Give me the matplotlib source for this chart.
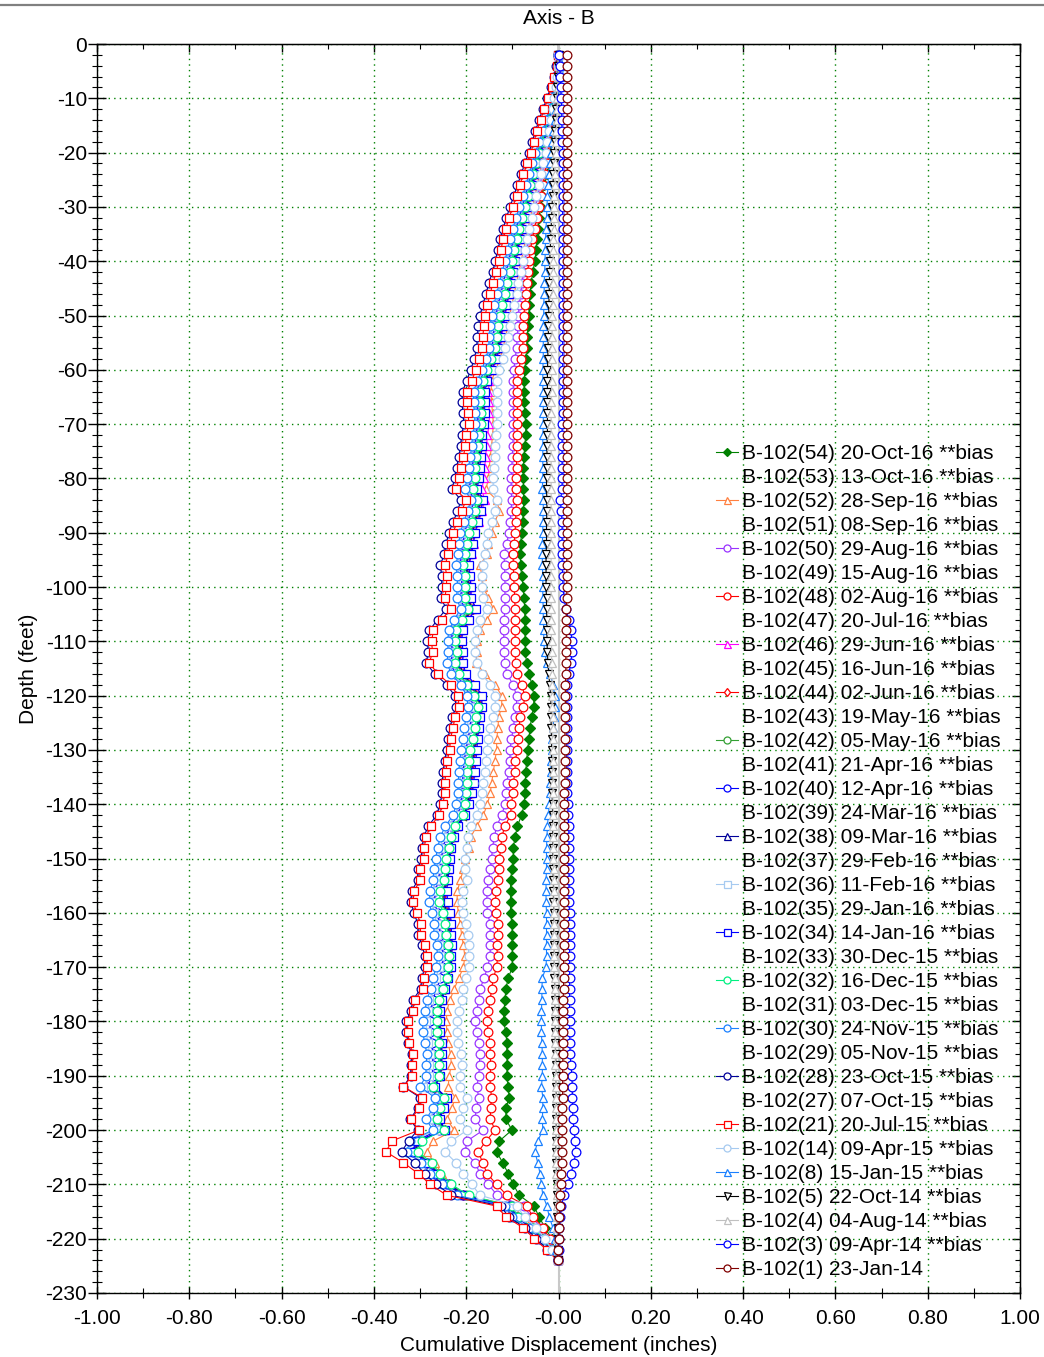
import matplotlib
matplotlib.use("Agg")  # headless
import matplotlib.pyplot as plt
from matplotlib.lines import Line2D
from matplotlib.ticker import MultipleLocator, FixedLocator
import numpy as np

plt.rcParams["font.family"] = ["Liberation Sans", "DejaVu Sans"]
plt.rcParams["font.size"] = 15

# ── data: cumulative displacement, thousandths of an inch, every 2 ft ──────
DEPTH = list(range(-2, -226, -2))

S54 = [0, -1, -3, -5, -7, -9, -12, -14, -16, -18,
       -20, -24, -31, -36, -39, -42, -45, -47, -49, -51,
       -56, -59, -62, -63, -64, -66, -68, -69, -71, -73,
       -74, -75, -75, -73, -71, -71, -73, -75, -76, -76,
       -76, -75, -76, -78, -80, -82, -83, -82, -80, -76,
       -75, -73, -73, -73, -72, -72, -69, -63, -58, -53,
       -54, -58, -62, -64, -67, -69, -71, -72, -73, -74,
       -80, -89, -94, -98, -98, -101, -104, -104, -104, -104,
       -101, -100, -100, -100, -100, -109, -114, -116, -118, -119,
       -114, -112, -112, -111, -112, -109, -107, -114, -114, -101,
       -128, -134, -121, -109, -98, -85, -53, -42, -29, -15,
       -8, -2]
S52 = [-1, -2, -4, -7, -10, -13, -17, -21, -26, -31,
       -36, -41, -46, -51, -56, -61, -66, -71, -76, -81,
       -86, -91, -96, -101, -106, -110, -115, -120, -127, -136,
       -145, -146, -145, -143, -141, -143, -145, -148, -150, -152,
       -157, -134, -128, -138, -145, -152, -155, -170, -166, -163,
       -152, -141, -155, -170, -177, -177, -178, -160, -138, -123,
       -123, -130, -131, -134, -134, -138, -141, -145, -148, -154,
       -163, -177, -190, -195, -203, -206, -213, -219, -220, -217,
       -213, -210, -206, -203, -206, -216, -226, -235, -242, -243,
       -242, -239, -234, -232, -237, -239, -224, -231, -242, -226,
       -271, -286, -268, -253, -232, -200, -95, -80, -50, -30,
       -13, -2]
S50 = [-1, -2, -4, -6, -9, -12, -15, -19, -23, -27,
       -31, -36, -40, -45, -50, -55, -60, -65, -69, -73,
       -76, -79, -82, -85, -87, -88, -89, -91, -94, -97,
       -98, -98, -98, -98, -98, -98, -99, -100, -101, -102,
       -103, -101, -103, -105, -108, -112, -118, -117, -116, -116,
       -116, -116, -118, -119, -118, -118, -116, -112, -98, -91,
       -91, -95, -98, -102, -105, -105, -108, -112, -113, -116,
       -123, -134, -139, -143, -145, -148, -152, -155, -155, -154,
       -148, -148, -148, -148, -154, -161, -170, -173, -177, -181,
       -177, -173, -171, -171, -173, -177, -173, -178, -181, -163,
       -198, -203, -181, -170, -152, -133, -75, -59, -37, -23,
       -10, -2]
S48 = [-1, -2, -3, -5, -7, -10, -13, -16, -19, -23,
       -26, -30, -34, -38, -42, -47, -52, -57, -61, -64,
       -67, -69, -71, -73, -75, -76, -76, -78, -82, -86,
       -89, -89, -89, -89, -89, -90, -90, -91, -91, -92,
       -92, -91, -92, -93, -94, -96, -98, -98, -97, -96,
       -95, -94, -94, -94, -94, -94, -93, -91, -80, -73,
       -76, -84, -85, -87, -89, -94, -94, -98, -99, -102,
       -104, -116, -123, -125, -128, -130, -132, -135, -137, -135,
       -132, -132, -134, -132, -134, -141, -145, -148, -152, -155,
       -152, -148, -148, -147, -148, -148, -145, -147, -148, -137,
       -157, -174, -164, -155, -134, -112, -69, -55, -33, -19,
       -8, -2]
S46 = [-1, -2, -4, -7, -10, -14, -19, -24, -30, -36,
       -42, -48, -54, -60, -66, -71, -77, -82, -87, -92,
       -97, -102, -106, -111, -115, -119, -123, -126, -134, -142,
       -150, -152, -151, -150, -150, -154, -156, -158, -160, -162,
       -166, -160, -166, -173, -180, -184, -188, -194, -191, -189,
       -189, -180, -196, -208, -210, -207, -209, -201, -182, -168,
       -167, -171, -174, -177, -180, -182, -184, -186, -189, -196,
       -202, -218, -227, -232, -236, -238, -241, -244, -243, -237,
       -233, -233, -231, -232, -233, -239, -245, -254, -257, -258,
       -257, -254, -254, -254, -256, -268, -243, -250, -258, -246,
       -306, -314, -285, -263, -238, -208, -107, -89, -57, -36,
       -16, -2]
S44 = [-1, -2, -5, -8, -12, -16, -21, -27, -33, -39,
       -45, -51, -57, -63, -69, -74, -80, -86, -91, -96,
       -101, -106, -111, -116, -120, -124, -127, -130, -139, -148,
       -157, -163, -163, -163, -163, -167, -169, -171, -174, -176,
       -179, -167, -173, -179, -186, -190, -194, -199, -196, -194,
       -195, -186, -200, -212, -214, -211, -214, -206, -186, -172,
       -168, -172, -175, -178, -181, -184, -186, -188, -190, -197,
       -203, -219, -228, -233, -237, -239, -242, -246, -245, -239,
       -235, -235, -232, -233, -234, -240, -246, -254, -257, -258,
       -257, -254, -254, -255, -257, -268, -244, -251, -258, -247,
       -305, -313, -284, -263, -238, -207, -107, -89, -57, -36,
       -16, -2]
S42 = [-1, -2, -5, -8, -12, -16, -22, -28, -34, -41,
       -47, -53, -59, -65, -71, -77, -83, -88, -93, -98,
       -103, -108, -113, -118, -123, -127, -130, -133, -142, -151,
       -160, -166, -166, -166, -166, -170, -171, -174, -177, -179,
       -182, -172, -177, -183, -190, -194, -197, -201, -198, -197,
       -198, -190, -204, -216, -218, -215, -218, -210, -191, -177,
       -170, -174, -177, -181, -186, -189, -191, -193, -195, -199,
       -205, -221, -230, -235, -239, -241, -244, -250, -251, -244,
       -240, -239, -236, -235, -236, -241, -248, -257, -260, -261,
       -260, -257, -256, -257, -258, -270, -246, -253, -261, -248,
       -300, -308, -279, -260, -235, -200, -104, -89, -57, -35,
       -16, -2]
S40 = [-1, -3, -6, -9, -14, -19, -25, -32, -39, -46,
       -53, -60, -66, -72, -79, -85, -92, -98, -103, -108,
       -114, -120, -125, -131, -136, -139, -142, -144, -152, -160,
       -170, -177, -177, -175, -175, -179, -181, -184, -187, -190,
       -194, -183, -189, -196, -204, -207, -210, -214, -210, -210,
       -212, -204, -218, -230, -232, -230, -233, -224, -205, -191,
       -185, -189, -192, -196, -201, -204, -207, -208, -209, -212,
       -218, -234, -244, -250, -254, -257, -260, -267, -269, -262,
       -258, -257, -252, -250, -252, -257, -263, -273, -276, -279,
       -278, -275, -272, -273, -273, -285, -258, -264, -275, -260,
       -309, -316, -286, -267, -242, -208, -108, -94, -60, -37,
       -17, -2]
S38 = [-1, -2, -5, -8, -11, -16, -21, -27, -33, -40,
       -46, -52, -58, -64, -70, -75, -81, -87, -92, -97,
       -102, -107, -112, -117, -121, -125, -128, -131, -140, -149,
       -158, -164, -164, -164, -164, -168, -170, -172, -175, -177,
       -180, -169, -175, -181, -187, -191, -195, -200, -197, -195,
       -196, -188, -202, -214, -216, -213, -215, -207, -188, -174,
       -169, -173, -176, -179, -183, -186, -188, -190, -192, -198,
       -204, -220, -229, -234, -238, -240, -243, -248, -248, -242,
       -238, -237, -234, -234, -235, -240, -247, -255, -258, -259,
       -258, -255, -255, -256, -257, -269, -245, -252, -259, -247,
       -303, -311, -282, -262, -237, -204, -106, -89, -57, -36,
       -16, -2]
S36 = [-1, -3, -6, -10, -14, -20, -26, -33, -40, -48,
       -55, -62, -69, -75, -82, -89, -96, -102, -107, -112,
       -118, -124, -130, -136, -141, -144, -146, -148, -155, -163,
       -173, -180, -180, -178, -178, -182, -184, -188, -191, -194,
       -199, -187, -193, -201, -209, -212, -214, -218, -215, -215,
       -217, -208, -222, -234, -236, -235, -238, -228, -209, -195,
       -191, -195, -198, -202, -206, -209, -212, -213, -214, -217,
       -223, -240, -250, -256, -260, -264, -266, -273, -275, -269,
       -264, -263, -258, -256, -259, -265, -270, -280, -283, -287,
       -286, -283, -279, -280, -280, -293, -263, -268, -281, -266,
       -318, -326, -292, -272, -247, -214, -112, -97, -62, -39,
       -18, -2]
S34 = [-1, -2, -4, -7, -11, -15, -20, -25, -31, -38,
       -44, -50, -56, -62, -68, -73, -79, -84, -89, -94,
       -99, -104, -108, -113, -117, -121, -125, -128, -136, -145,
       -154, -160, -160, -160, -161, -165, -166, -168, -171, -173,
       -176, -163, -169, -175, -181, -185, -189, -195, -192, -190,
       -190, -178, -195, -208, -210, -206, -208, -200, -180, -166,
       -166, -170, -173, -175, -177, -179, -181, -184, -187, -195,
       -202, -217, -227, -232, -235, -237, -240, -242, -240, -235,
       -232, -232, -230, -232, -232, -239, -245, -253, -256, -257,
       -256, -253, -253, -253, -256, -268, -242, -249, -257, -246,
       -307, -315, -286, -264, -239, -210, -108, -90, -58, -37,
       -17, -2]
S32 = [-1, -2, -5, -8, -12, -17, -23, -29, -36, -43,
       -49, -55, -61, -67, -73, -79, -85, -91, -96, -101,
       -106, -112, -117, -122, -127, -131, -134, -137, -146, -155,
       -164, -170, -170, -169, -169, -173, -175, -178, -180, -182,
       -186, -177, -182, -188, -195, -199, -202, -206, -202, -202,
       -203, -197, -210, -222, -224, -221, -224, -216, -198, -184,
       -174, -178, -181, -185, -192, -195, -198, -199, -200, -203,
       -208, -224, -233, -238, -243, -245, -248, -256, -258, -250,
       -246, -244, -240, -238, -239, -242, -250, -260, -263, -264,
       -263, -260, -259, -260, -260, -271, -249, -257, -264, -249,
       -296, -304, -275, -257, -232, -195, -101, -87, -55, -33,
       -15, -2]
S30 = [-1, -3, -6, -10, -15, -20, -27, -34, -42, -50,
       -57, -64, -71, -78, -85, -92, -99, -105, -111, -116,
       -122, -128, -134, -140, -145, -148, -150, -151, -158, -166,
       -176, -184, -184, -182, -181, -186, -188, -191, -195, -198,
       -203, -190, -197, -205, -213, -216, -218, -222, -219, -219,
       -221, -212, -226, -238, -240, -239, -242, -232, -212, -199,
       -196, -201, -204, -208, -211, -214, -216, -217, -218, -222,
       -228, -245, -256, -262, -266, -270, -272, -278, -280, -275,
       -270, -270, -264, -262, -265, -272, -276, -286, -289, -294,
       -294, -290, -285, -287, -287, -300, -268, -272, -287, -272,
       -322, -329, -297, -278, -253, -221, -116, -101, -65, -40,
       -19, -2]
S28 = [-2, -5, -10, -17, -25, -34, -42, -50, -57, -64,
       -73, -81, -89, -97, -105, -113, -120, -126, -132, -137,
       -143, -151, -157, -164, -170, -174, -176, -177, -183, -190,
       -199, -208, -209, -207, -205, -210, -212, -216, -221, -225,
       -231, -211, -219, -228, -238, -243, -248, -256, -253, -253,
       -255, -243, -262, -280, -284, -282, -287, -268, -242, -225,
       -222, -230, -235, -240, -242, -247, -250, -252, -252, -257,
       -264, -282, -292, -296, -297, -305, -305, -318, -320, -313,
       -305, -304, -295, -290, -290, -296, -299, -315, -320, -330,
       -330, -326, -318, -320, -320, -336, -300, -305, -322, -305,
       -325, -340, -312, -290, -265, -232, -125, -108, -72, -48,
       -24, -2]
S21 = [-2, -4, -9, -15, -23, -31, -39, -47, -53, -60,
       -68, -76, -84, -91, -99, -107, -114, -120, -125, -129,
       -135, -142, -148, -154, -159, -162, -164, -165, -172, -179,
       -188, -198, -198, -196, -194, -200, -202, -206, -211, -215,
       -222, -200, -210, -219, -229, -234, -239, -246, -242, -243,
       -246, -233, -253, -271, -275, -273, -280, -261, -234, -217,
       -216, -224, -229, -234, -236, -241, -244, -246, -246, -251,
       -258, -277, -287, -291, -291, -300, -300, -313, -315, -307,
       -299, -299, -289, -284, -285, -291, -294, -311, -316, -327,
       -327, -323, -315, -317, -317, -336, -296, -302, -320, -302,
       -361, -374, -336, -304, -278, -242, -134, -114, -76, -53,
       -26, -2]
S14 = [-1, -2, -4, -6, -9, -12, -16, -20, -24, -28,
       -33, -38, -43, -48, -53, -58, -63, -68, -72, -77,
       -82, -87, -91, -96, -100, -105, -110, -116, -121, -128,
       -134, -134, -134, -134, -134, -135, -137, -137, -139, -141,
       -142, -134, -137, -145, -152, -155, -159, -163, -166, -166,
       -163, -155, -170, -177, -181, -181, -177, -166, -148, -137,
       -137, -142, -148, -152, -155, -157, -159, -163, -166, -170,
       -177, -190, -197, -199, -202, -202, -199, -206, -210, -206,
       -200, -197, -195, -195, -193, -200, -206, -210, -215, -219,
       -219, -217, -212, -210, -213, -213, -198, -206, -213, -198,
       -232, -246, -222, -206, -188, -170, -91, -73, -48, -30,
       -15, -2]
S8 = [2, 12, 8, 3, -2, -5, -8, -11, -14, -17,
      -19, -21, -23, -24, -25, -26, -27, -28, -29, -29,
      -30, -31, -31, -32, -32, -33, -33, -33, -33, -34,
      -34, -34, -33, -33, -33, -34, -34, -34, -34, -34,
      -35, -33, -33, -34, -34, -35, -35, -35, -34, -34,
      -34, -33, -33, -32, -32, -30, -25, -18, -12, -8,
      -8, -10, -12, -14, -15, -16, -17, -18, -19, -20,
      -22, -24, -25, -26, -26, -26, -27, -27, -27, -26,
      -26, -26, -26, -26, -27, -35, -36, -36, -37, -37,
      -37, -36, -35, -35, -35, -37, -34, -34, -35, -34,
      -45, -51, -45, -40, -37, -34, -25, -20, -12, -8,
      -5, -2]
S5 = [0, -1, -2, -3, -4, -5, -6, -7, -8, -9,
      -10, -11, -12, -13, -14, -15, -16, -17, -18, -19,
      -19, -20, -20, -21, -21, -22, -22, -23, -23, -24,
      -24, -24, -24, -24, -24, -24, -25, -25, -25, -26,
      -26, -25, -25, -26, -26, -26, -27, -27, -27, -27,
      -26, -26, -25, -25, -25, -24, -23, -21, -19, -17,
      -16, -16, -16, -15, -15, -15, -14, -14, -14, -13,
      -13, -13, -12, -12, -12, -12, -11, -11, -11, -10,
      -10, -10, -9, -9, -9, -9, -8, -8, -8, -7,
      -7, -7, -6, -6, -6, -6, -5, -5, -5, -5,
      -5, -6, -5, -4, -4, -4, -3, -3, -2, -2,
      -2, -2]
S4 = [0, -1, -1, -2, -3, -3, -4, -5, -5, -6,
      -7, -7, -8, -9, -9, -10, -10, -11, -11, -12,
      -12, -13, -13, -13, -14, -14, -14, -15, -15, -15,
      -15, -15, -16, -16, -16, -16, -16, -16, -16, -16,
      -16, -16, -16, -16, -16, -16, -16, -16, -16, -16,
      -16, -16, -16, -16, -15, -15, -15, -14, -14, -14,
      -14, -13, -13, -13, -13, -12, -12, -12, -12, -12,
      -11, -11, -11, -11, -11, -10, -10, -10, -10, -10,
      -9, -9, -9, -9, -9, -8, -8, -8, -8, -8,
      -7, -7, -7, -7, -6, -6, -6, -6, -6, -5,
      -5, -5, -5, -5, -4, -4, -4, -3, -3, -3,
      -2, -2]
S3 = [2, 3, 4, 5, 6, 7, 7, 8, 8, 9,
      9, 9, 9, 9, 9, 9, 9, 9, 9, 9,
      9, 9, 9, 9, 9, 9, 9, 9, 9, 9,
      9, 9, 9, 9, 8, 8, 8, 8, 8, 8,
      8, 4, 6, 8, 8, 8, 8, 8, 9, 10,
      12, 16, 22, 27, 29, 29, 27, 22, 19, 18,
      18, 18, 18, 18, 18, 18, 18, 19, 19, 20,
      21, 22, 23, 23, 23, 23, 23, 23, 23, 24,
      24, 24, 24, 24, 24, 24, 24, 24, 24, 24,
      24, 25, 25, 27, 29, 30, 30, 31, 31, 34,
      36, 38, 33, 27, 20, 12, 6, 4, 2, 1,
      0, -1]
S1 = [18, 19, 19, 19, 19, 19, 19, 19, 19, 19,
      19, 19, 19, 19, 19, 19, 19, 19, 19, 19,
      19, 19, 19, 19, 19, 18, 18, 18, 18, 18,
      18, 18, 18, 18, 18, 18, 18, 18, 18, 18,
      18, 18, 18, 18, 18, 18, 18, 18, 18, 18,
      18, 17, 17, 17, 17, 16, 16, 16, 15, 15,
      15, 15, 14, 14, 14, 14, 14, 14, 13, 13,
      13, 13, 13, 13, 13, 12, 12, 12, 12, 12,
      12, 12, 11, 11, 11, 11, 11, 10, 10, 10,
      10, 10, 10, 9, 9, 9, 9, 8, 8, 8,
      8, 7, 7, 6, 5, 4, 3, 2, 1, 0,
      -1, -2]

X_TICKS = [-1.0, -0.8, -0.6, -0.4, -0.2, 0.0, 0.2, 0.4, 0.6, 0.8, 1.0]
X_LABELS = ["-1.00", "-0.80", "-0.60", "-0.40", "-0.20", "-0.00",
            "0.20", "0.40", "0.60", "0.80", "1.00"]
Y_TICKS = list(range(0, -240, -10))

# ── series styles, in legend / drawing order ───────────────────────────────
C_GREEN = "#008000"
C_ORANGE = "#ff8040"
C_PURPLE = "#9933ff"
C_RED = "#ff0000"
C_MAGENTA = "#ff00ff"
C_GREEN2 = "#33a033"
C_BLUE = "#0000ff"
C_NAVY = "#000099"
C_SKY = "#a6caf0"
C_SPRING = "#00f080"
C_DODGER = "#1a80ff"
C_BLACK = "#000000"
C_SILVER = "#c0c0c0"
C_DARKRED = "#800000"


def st(color, marker, ms=6.3, filled=False):
    return dict(color=color, marker=marker, ms=ms, mew=0.9, lw=0.8,
                mfc=color if filled else "white", mec=color)


SERIES = [
    ("B-102(54) 20-Oct-16 **bias", S54, st(C_GREEN, "D", 4.6, True)),
    ("B-102(53) 13-Oct-16 **bias", None, None),
    ("B-102(52) 28-Sep-16 **bias", S52, st(C_ORANGE, "^")),
    ("B-102(51) 08-Sep-16 **bias", None, None),
    ("B-102(50) 29-Aug-16 **bias", S50, st(C_PURPLE, "o")),
    ("B-102(49) 15-Aug-16 **bias", None, None),
    ("B-102(48) 02-Aug-16 **bias", S48, st(C_RED, "o")),
    ("B-102(47) 20-Jul-16 **bias", None, None),
    ("B-102(46) 29-Jun-16 **bias", S46, st(C_MAGENTA, "^")),
    ("B-102(45) 16-Jun-16 **bias", None, None),
    ("B-102(44) 02-Jun-16 **bias", S44, st(C_RED, "d", 5.5)),
    ("B-102(43) 19-May-16 **bias", None, None),
    ("B-102(42) 05-May-16 **bias", S42, st(C_GREEN2, "o")),
    ("B-102(41) 21-Apr-16 **bias", None, None),
    ("B-102(40) 12-Apr-16 **bias", S40, st(C_BLUE, "o")),
    ("B-102(39) 24-Mar-16 **bias", None, None),
    ("B-102(38) 09-Mar-16 **bias", S38, st(C_NAVY, "^")),
    ("B-102(37) 29-Feb-16 **bias", None, None),
    ("B-102(36) 11-Feb-16 **bias", S36, st(C_SKY, "s")),
    ("B-102(35) 29-Jan-16 **bias", None, None),
    ("B-102(34) 14-Jan-16 **bias", S34, st(C_BLUE, "s")),
    ("B-102(33) 30-Dec-15 **bias", None, None),
    ("B-102(32) 16-Dec-15 **bias", S32, st(C_SPRING, "o")),
    ("B-102(31) 03-Dec-15 **bias", None, None),
    ("B-102(30) 24-Nov-15 **bias", S30, st(C_DODGER, "o")),
    ("B-102(29) 05-Nov-15 **bias", None, None),
    ("B-102(28) 23-Oct-15 **bias", S28, st(C_NAVY, "o")),
    ("B-102(27) 07-Oct-15 **bias", None, None),
    ("B-102(21) 20-Jul-15 **bias", S21, st(C_RED, "s")),
    ("B-102(14) 09-Apr-15 **bias", S14, st(C_SKY, "o")),
    ("B-102(8) 15-Jan-15 **bias", S8, st(C_DODGER, "^")),
    ("B-102(5) 22-Oct-14 **bias", S5, st(C_BLACK, "v")),
    ("B-102(4) 04-Aug-14 **bias", S4, st(C_SILVER, "^")),
    ("B-102(3) 09-Apr-14 **bias", S3, st(C_BLUE, "o")),
    ("B-102(1) 23-Jan-14", S1, st(C_DARKRED, "o")),
]

# ── figure ─────────────────────────────────────────────────────────────────
W, H = 1044, 1357
fig = plt.figure(figsize=(W / 100, H / 100), dpi=100, facecolor="white")
L, R, T, B = 97, 1020, 44, 1293
ax = fig.add_axes([L / W, 1 - B / H, (R - L) / W, (B - T) / H])

fig.add_artist(Line2D([0, 1], [1 - 5 / H] * 2, transform=fig.transFigure,
                      color="#808080", lw=1.6))

ax.axvline(0, color="#c8c8c8", lw=1.5, zorder=1.5)

handles = []
for label, vals, style in SERIES:
    if vals is None:
        handles.append(Line2D([], [], ls="none", label=label))
        continue
    line, = ax.plot(np.array(vals) / 1000.0, DEPTH, label=label, **style)
    handles.append(line)

ax.set_xlim(-1, 1)
ax.set_ylim(-230, 0)
ax.set_xticks(X_TICKS)
ax.set_xticklabels(X_LABELS)
ax.xaxis.set_minor_locator(MultipleLocator(0.1))
ax.set_yticks(Y_TICKS)
ax.set_yticklabels([str(v) for v in Y_TICKS])
ax.yaxis.set_minor_locator(MultipleLocator(2))

ax.grid(which="major", color="#008000", linestyle=(0, (1, 3)), lw=1.0)
ax.set_axisbelow(True)

for sp in ax.spines.values():
    sp.set_linewidth(1.0)

ax.tick_params(which="major", direction="inout", length=12, width=1,
               top=False, right=False, pad=2)
ax.tick_params(axis="y", which="major", length=12.5, pad=1)
ax.tick_params(which="minor", direction="inout", length=6.5, width=0.8,
               top=False, right=False)
ax.tick_params(axis="x", which="major", length=8.5, pad=7)

# inward ticks on the top and right edges
sec_x = ax.secondary_xaxis("top")
sec_x.xaxis.set_major_locator(FixedLocator(X_TICKS))
sec_x.xaxis.set_minor_locator(MultipleLocator(0.1))
sec_x.tick_params(which="major", direction="in", length=6, width=1, labeltop=False)
sec_x.tick_params(which="minor", direction="in", length=3.5, width=0.8)
sec_y = ax.secondary_yaxis("right")
sec_y.yaxis.set_major_locator(FixedLocator(Y_TICKS))
sec_y.yaxis.set_minor_locator(MultipleLocator(2))
sec_y.tick_params(which="major", direction="in", length=6, width=1, labelright=False)
sec_y.tick_params(which="minor", direction="in", length=3.5, width=0.8)

ax.set_xlabel("Cumulative Displacement (inches)", labelpad=6)
ax.set_ylabel("Depth (feet)", labelpad=5)
ax.text(0.5, 1 + (T - 18) / (B - T), "Axis - B", transform=ax.transAxes,
        ha="center", va="center")

fig.legend(handles=handles, loc="upper left",
           bbox_to_anchor=(716 / W, 1 - 444 / H), frameon=False,
           borderpad=0, borderaxespad=0, handlelength=1.05,
           handletextpad=0.2, labelspacing=0.24, markerscale=0.8)

fig.savefig("out.png", dpi=100, facecolor="white")
